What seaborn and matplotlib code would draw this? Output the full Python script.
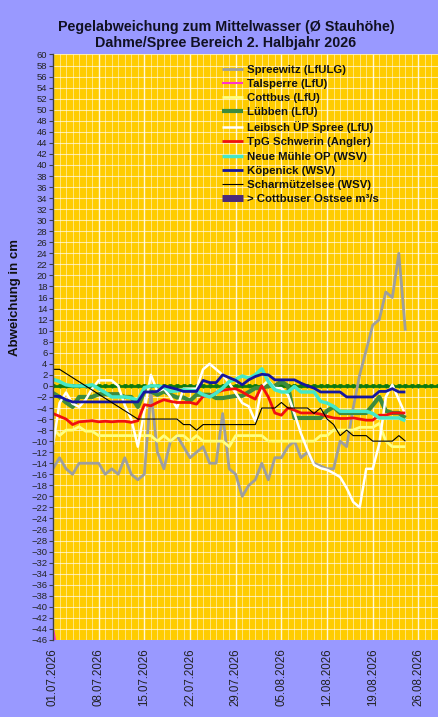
import matplotlib
matplotlib.use("Agg")
import matplotlib.pyplot as plt
import numpy as np
import pandas as pd
import seaborn as sns

# ---------------------------------------------------------------

# Daily deviation from mean water level in cm, starting 01.07.2026.
start = "2026-07-01"
nan = np.nan

spreewitz = [-15, -13, -15, -16, -14, -14, -14, -14, -16, -15,
             -16, -13, -16, -17, -16, -1, -12, -15, -10, -9,
             -11, -13, -12, -11, -14, -14, -5, -15, -16, -20,
             -18, -17, -14, -17, -13, -13, -11, -10, -13, -12,
             -14, -14.5, -15, -15, -10, -11, -4, 2, 6.5, 11,
             12, 17, 16, 24, 10]

talsperre = [-44, -50] + [nan] * 53

cottbus = [-7.7, -9, -8, -8, -7.4, -8.2, -8.2, -9, -9, -9,
           -9, -9, -9, -9, -9, -9, -10, -9, -10, -9,
           -9, -10, -9, -10, -10, -10, -10, -11, -9, -9,
           -9, -9, -9, -10, -10, -10, -10, -10, -10, -10,
           -10, -9, -9, -8, -8, -8, -8, -7.5, -7.5, -7.5,
           -6.8, -10, -11, -11, -11]

luebben = [-1.3, -2, -3, -3.8, -2, -2, -2, -1.5, -1.5, -1.5,
           -1.5, -2, -2, -3.8, -1, -1, -1.6, -1, -1.6, -2.1,
           -2.1, -2.7, -1.6, -1.6, -1.6, -2.2, -2.2, -2, -1.8, -1.8,
           -1.1, -0.4, -0.4, 0, 0, 0.8, 0, -5.8, -5.8, -5.8,
           -5.8, -5.8, -4.5, -3.8, -4.9, -4.9, -4.9, -4.9, -4.9, -3.5,
           -2, -4.5, -4.9, -4.9, -5.8]

leibsch = [-10.7, -3.1, -1.2, -3.2, -3.8, -2.5, -0.5, 1, 1, 1,
           0, -3.5, -6, -11, -4.5, 2, -1, -0.5, -2, -4,
           -0.5, -0.5, -0.5, 3, 4, 3, 2, 0.5, -1.3, -3.1,
           -3.7, -6.4, -0.1, 1, -0.4, -0.4, -1.6, -5, -8.6, -11.6,
           -14.3, -14.9, -15.2, -15.8, -16.5, -18.5, -21, -22, -15, -15,
           -10.5, -2, 0.2, -2.5, -5.2]

schwerin = [-5, -5.5, -6, -7, -6.5, -6.4, -6.3, -6.5, -6.4, -6.5,
            -6.4, -6.4, -6.6, -6.3, -3.4, -3.6, -3, -2.5, -2.8, -3,
            -3, -3, -3.3, -1.9, -1.8, -1.2, -0.8, -0.6, -0.5, -1.1,
            -1.8, -2.4, 0, -2, -4.9, -5.3, -4, -4.4, -4.9, -4.9,
            -4.9, -5.1, -5.5, -5.8, -5.9, -5.9, -5.8, -6, -6.2, -6.2,
            -5.3, -5.3, -4.9, -4.9, -4.9]

neue_muehle = [1.2, 0.8, 0.2, 0, 0, 0, 0.2, -0.5, -1.2, -2,
               -2, -2, -2.2, -2.6, -0.3, 0, 0, -0.2, -1, -0.9,
               -0.7, -0.8, -0.9, -1.6, -2, -1.3, -0.4, 0.8, 1.2, 1.8,
               1.4, 2, 3.1, 0.8, -0.7, -1.1, -1.1, -0.1, -1.1, -1.1,
               -1.1, -2.8, -3.1, -3.7, -4.6, -4.6, -4.6, -4.6, -4.6, -5,
               -5.8, -5.8, -5.8, -5.8, -6.3]

koepenick = [-1.9, -1.9, -2.5, -2.9, -2.9, -2.9, -2.9, -2.9, -2.9, -2.9,
             -2.9, -2.9, -2.9, -2.9, -1.1, -1.1, -1, 0, -0.3, -0.6,
             -1, -1, -1, 1, 0.6, 0.6, 2, 1.5, 1, 0.2,
             1.1, 1.7, 2.1, 2, 1.1, 1.1, 1.1, 1.1, 0.5, 0,
             -0.4, -1.1, -1.1, -1.1, -1.1, -2, -2, -2, -2, -2,
             -1, -1, -0.5, -1.1, -1.1]

scharmuetzel = ([3, 3] + [nan] * 11 +
                [-6, -6, -6, -6, -6, -6, -6, -7, -7, -8,
                 -7, -7, -7, -7, -7, -7, -7, -7, -7, -4,
                 -4, -4, -3, -4, -4, -4, -4, -5, -4, -6,
                 -7, -9, -8, -9, -9, -9, -10, -10, -10, -10,
                 -9, -10])

labels = ["Spreewitz (LfULG)", "Talsperre (LfU)", "Cottbus (LfU)", "Lübben (LfU)",
          "Leibsch ÜP Spree (LfU)", "TpG Schwerin (Angler)", "Neue Mühle OP (WSV)",
          "Köpenick (WSV)", "Scharmützelsee (WSV)"]
ostsee_label = "> Cottbuser Ostsee m³/s"

tick_labels = ["01.07.2026", "08.07.2026", "15.07.2026", "22.07.2026", "29.07.2026",
               "05.08.2026", "12.08.2026", "19.08.2026", "26.08.2026"]

# ---------------------------------------------------------------

days = pd.date_range(start, periods=len(spreewitz), freq="D")
df = pd.DataFrame({"Datum": days})
for name, vals in zip(labels, [spreewitz, talsperre, cottbus, luebben, leibsch,
                               schwerin, neue_muehle, koepenick, scharmuetzel]):
    df[name] = vals

colors = ["#9E9E9E", "#FF33CC", "#FFFF80", "#3D8B3D", "#FFFFFF",
          "#F01010", "#44E8C8", "#1515A0", "#000000"]
widths = [2.0, 1.5, 2.0, 3.0, 1.8, 2.0, 2.5, 2.0, 0.8]

# ---------------------------------------------------------------

sns.set_theme(style="white")
plt.rcParams["font.family"] = ["Liberation Sans", "DejaVu Sans"]
plt.rcParams["lines.solid_capstyle"] = "butt"

fig = plt.figure(figsize=(4.38, 7.17), dpi=100, facecolor="#9999FF")
ax = fig.add_axes([0.121, 0.1074, 0.879, 0.8166])
ax.set_facecolor("#FFCC00")

t0 = pd.Timestamp(start)
x_end = t0 + pd.Timedelta(days=58.6)
grid_days = pd.date_range(start, periods=60, freq="D")

# Zero line with small daily teeth.
ax.axhline(0, color="#0E7A0E", lw=2, zorder=1.5)
ax.plot(grid_days, np.zeros(len(grid_days)), ls="none", marker="v", ms=2.4,
        color="#0E7A0E", zorder=1.5)

for name, col, lw in zip(labels, colors, widths):
    sub = df[["Datum", name]].dropna()
    sns.lineplot(data=sub, x="Datum", y=name, color=col, lw=lw, label=name, ax=ax)

# Legend-only series (no values shown in this chart).
ax.plot([], [], color="#4B2A7B", lw=5, label=ostsee_label)

ax.set_xlim(t0, x_end)
ax.set_ylim(-46, 60)
ax.set_yticks(range(-46, 61, 2))
tick_dates = pd.date_range(start, periods=len(tick_labels), freq="7D")
ax.set_xticks(tick_dates)
ax.set_xticklabels(tick_labels, rotation=90, fontsize=8.3, color="#222222")
ax.set_xticks(grid_days, minor=True)

ax.grid(axis="y", color="white", lw=0.8, alpha=0.65)
ax.grid(axis="x", which="major", color="white", lw=1.0, alpha=0.85)
ax.grid(axis="x", which="minor", color="white", lw=0.7, alpha=0.5)
ax.set_axisbelow(True)

ax.tick_params(axis="y", left=True, length=3, width=0.8, color="#404040",
               labelsize=6.8, labelcolor="#222222", pad=1)
ax.tick_params(axis="x", which="both", bottom=False, pad=0)
for s in ["top", "right", "bottom"]:
    ax.spines[s].set_visible(False)
ax.spines["left"].set_color("#404040")
ax.spines["left"].set_linewidth(1)
ax.set_xlabel("")
ax.set_ylabel("")

fig.text(226 / 438, 1 - 27 / 717, "Pegelabweichung zum Mittelwasser (Ø Stauhöhe)",
         ha="center", va="center", fontsize=10.3, fontweight="bold", color="#111122")
fig.text(226 / 438, 1 - 43 / 717, "Dahme/Spree Bereich 2. Halbjahr 2026",
         ha="center", va="center", fontsize=10.3, fontweight="bold", color="#111122")
fig.text(15 / 438, 1 - 297 / 717, "Abweichung in cm", rotation=90,
         ha="center", va="center", fontsize=9.5, fontweight="bold", color="#111111")

leg = ax.legend(loc="upper left", bbox_to_anchor=(222 / 438, 1 - 65 / 717),
                bbox_transform=fig.transFigure, frameon=False,
                prop={"size": 8.2, "weight": "bold"}, handlelength=1.85,
                handletextpad=0.35, labelspacing=0.36, borderpad=0, borderaxespad=0)
for t in leg.get_texts():
    t.set_color("#111111")

fig.savefig("out.png", dpi=100, facecolor=fig.get_facecolor())
